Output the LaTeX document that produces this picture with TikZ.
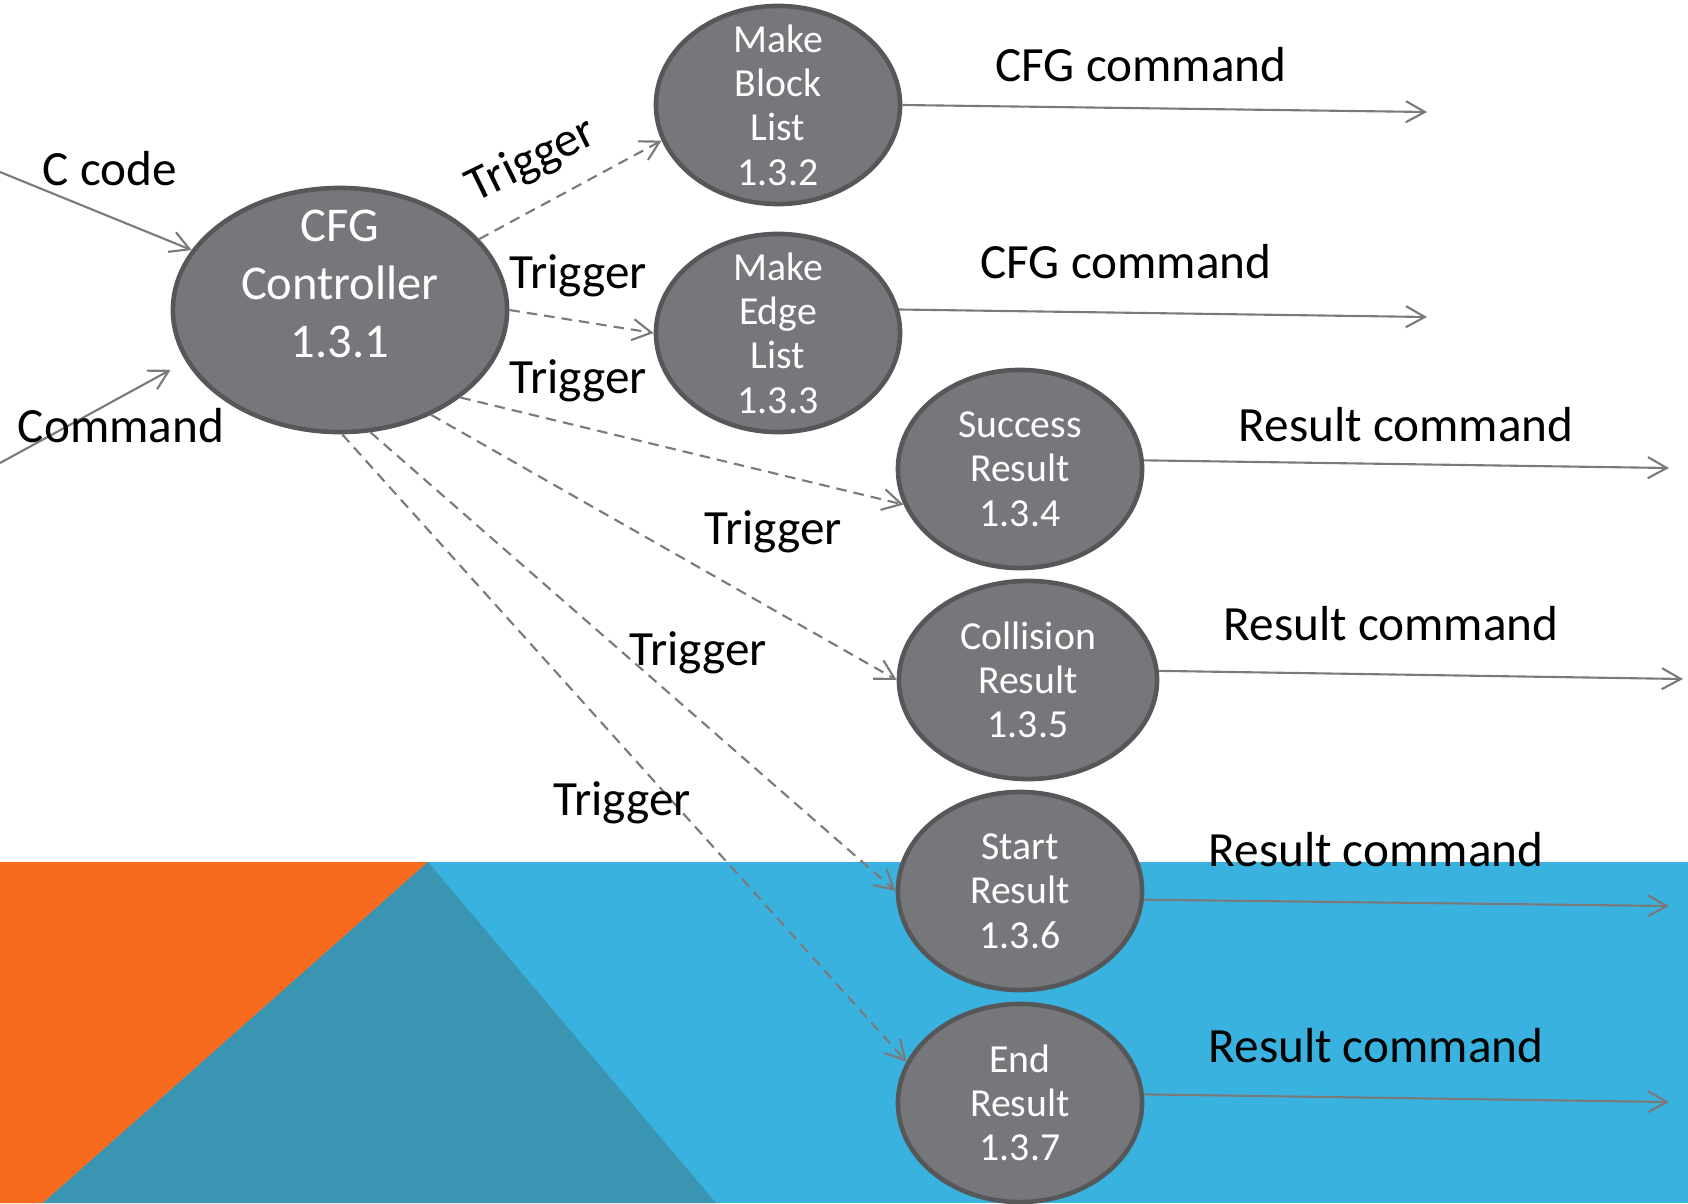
\documentclass[tikz,border=0pt]{standalone}
\usepackage{fontspec}
\setmainfont{Carlito}
\usetikzlibrary{shapes.geometric,arrows.meta}
\definecolor{bubblegray}{RGB}{118,119,123}
\definecolor{bubbleedge}{RGB}{86,87,89}
\definecolor{linegray}{RGB}{122,122,122}
\definecolor{slideorange}{RGB}{248,107,30}
\definecolor{slideblue}{RGB}{58,178,224}
\definecolor{slideteal}{RGB}{58,149,179}
\begin{document}
\begin{tikzpicture}[x=0.01cm, y=-0.01cm,
	process/.style={ellipse, draw=bubbleedge, line width=1.3pt, fill=bubblegray, text=white, align=center, inner sep=0pt, inner ysep=-5pt, minimum width=2.44cm, minimum height=1.98cm, font=\fontsize{11.3}{12.6}\selectfont},
	flowlabel/.style={text=black, font=\fontsize{14}{16}\selectfont},
	barb/.style={-{Straight Barb[length=5.4pt, width=6pt]}},
	dataflow/.style={barb, draw=linegray, line width=0.6pt},
	trigger/.style={dataflow, dash pattern=on 3pt off 2pt}]
				% Page and slide background
				\useasboundingbox (0,0) rectangle (1688,1203);
				\fill[white] (0,0) rectangle (1688,1203);
				\fill[slideblue] (0,862) rectangle (1688,1203);
				\fill[slideorange] (0,862) -- (428,862) -- (43,1203) -- (0,1203) -- cycle;
				\fill[slideteal] (428,862) -- (716,1203) -- (43,1203) -- cycle;

				% Controller
				\node[process, minimum width=3.34cm, minimum height=2.44cm] (cfg) at (340,310) {};
				\node[text=white, align=center, font=\fontsize{13.8}{16.5}\selectfont] (cfgtext) at (340,284) {CFG\\Controller\\1.3.1};

				% Inputs
				\coordinate (ccodein) at (0,172);
				\coordinate (commandin) at (0,463);
				\draw[dataflow] (ccodein) -- (cfg.158);
				\draw[dataflow] (commandin) -- ([yshift=-17pt]cfg.west);
				\node[flowlabel] (ccode) at (110,169) {C code};
				\node[flowlabel] (command) at (121,426) {Command};

				% Processes
				\node[process] (blocklist) at (778,105) {Make\\Block\\List\\1.3.2};
				\node[process] (edgelist) at (778,333) {Make\\Edge\\List\\1.3.3};
				\node[process] (success) at (1020,469) {Success\\Result\\1.3.4};
				\node[process, minimum width=2.58cm] (collision) at (1028,680) {Collision\\Result\\1.3.5};
				\node[process] (startres) at (1020,891) {Start\\Result\\1.3.6};
				\node[process] (endres) at (1020,1103) {End\\Result\\1.3.7};

				% Triggers
				\draw[trigger] (cfg.27) -- (blocklist.197);
				\draw[trigger] (cfg.east) -- (edgelist.west);
				\draw[trigger] (cfg.-36) -- (success.197);
				\draw[trigger] (cfg.-49) -- (collision.west);
				\draw[trigger] (cfg.-76) -- (startres.west);
				\draw[trigger] (cfg.-89) -- (endres.160);
				\node[flowlabel, rotate=26] (trigblock) at (532,161) {Trigger};
				\node[flowlabel] (trigedge) at (578,276) {Trigger};
				\node[flowlabel] (trigsuccess) at (578,381) {Trigger};
				\node[flowlabel] (trigcollision) at (773,532) {Trigger};
				\node[flowlabel] (trigstart) at (698,653) {Trigger};
				\node[flowlabel] (trigend) at (622,803) {Trigger};

				% Outputs
				\coordinate (blockout) at (1427,112);
				\coordinate (edgeout) at (1427,317);
				\coordinate (successout) at (1669,468);
				\coordinate (collisionout) at (1683,679);
				\coordinate (startout) at (1669,906);
				\coordinate (endout) at (1669,1102);
				\draw[dataflow] (blocklist.east) -- (blockout);
				\draw[dataflow] (edgelist.11) -- (edgeout);
				\draw[dataflow] (success.4) -- (successout);
				\draw[dataflow] (collision.4) -- (collisionout);
				\draw[dataflow] (startres.-4) -- (startout);
				\draw[dataflow] (endres.4) -- (endout);
				\node[flowlabel] (blockcmd) at (1141,65) {CFG command};
				\node[flowlabel] (edgecmd) at (1126,262) {CFG command};
				\node[flowlabel] (successcmd) at (1406,425) {Result command};
				\node[flowlabel] (collisioncmd) at (1391,624) {Result command};
				\node[flowlabel] (startcmd) at (1376,850) {Result command};
				\node[flowlabel] (endcmd) at (1376,1046) {Result command};
			\end{tikzpicture}
\end{document}
